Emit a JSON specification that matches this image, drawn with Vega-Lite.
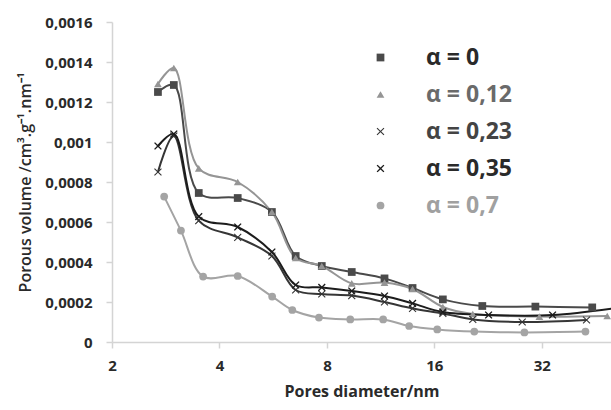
{
  "$schema": "https://vega.github.io/schema/vega-lite/v6.json",
  "width": 499,
  "height": 320,
  "autosize": "none",
  "padding": {"left": 112, "top": 22, "right": 0, "bottom": 68},
  "background": "white",
  "config": {
    "view": {"stroke": null},
    "font": "Open Sans",
    "axis": {"grid": false, "domainColor": "#d4d4d4", "domainWidth": 1.5, "tickColor": "#d4d4d4", "tickWidth": 1.5, "tickSize": 6, "labelFont": "Open Sans", "labelFontWeight": "bold", "labelFontSize": 15, "labelColor": "#2a2a2a", "titleFont": "Open Sans", "titleColor": "#2a2a2a"},
    "legend": {"padding": 0, "rowPadding": 13, "labelOffset": 34, "labelFontSize": 23, "labelFont": "Open Sans", "labelFontWeight": "bold", "labelColor": "#333333", "symbolStrokeWidth": 0}
  },
  "data": {
    "values": [
      {"s": "α = 0", "d": 2.69, "v": 0.00125},
      {"s": "α = 0", "d": 2.98, "v": 0.001285},
      {"s": "α = 0", "d": 3.5, "v": 0.000745},
      {"s": "α = 0", "d": 4.5, "v": 0.00072},
      {"s": "α = 0", "d": 5.61, "v": 0.00065},
      {"s": "α = 0", "d": 6.54, "v": 0.00043},
      {"s": "α = 0", "d": 7.74, "v": 0.00038},
      {"s": "α = 0", "d": 9.39, "v": 0.00035},
      {"s": "α = 0", "d": 11.6, "v": 0.000318},
      {"s": "α = 0", "d": 13.9, "v": 0.00027},
      {"s": "α = 0", "d": 16.9, "v": 0.000213},
      {"s": "α = 0", "d": 21.8, "v": 0.00018},
      {"s": "α = 0", "d": 30.7, "v": 0.000177},
      {"s": "α = 0", "d": 44.3, "v": 0.000173},
      {"s": "α = 0,12", "d": 2.69, "v": 0.00129},
      {"s": "α = 0,12", "d": 2.98, "v": 0.00137},
      {"s": "α = 0,12", "d": 3.5, "v": 0.000868},
      {"s": "α = 0,12", "d": 4.5, "v": 0.0008},
      {"s": "α = 0,12", "d": 5.61, "v": 0.00065},
      {"s": "α = 0,12", "d": 6.54, "v": 0.00042},
      {"s": "α = 0,12", "d": 7.74, "v": 0.00038},
      {"s": "α = 0,12", "d": 9.39, "v": 0.000293},
      {"s": "α = 0,12", "d": 11.6, "v": 0.000297},
      {"s": "α = 0,12", "d": 13.9, "v": 0.000265},
      {"s": "α = 0,12", "d": 16.9, "v": 0.000175},
      {"s": "α = 0,12", "d": 20.5, "v": 0.00014},
      {"s": "α = 0,12", "d": 31.5, "v": 0.000127},
      {"s": "α = 0,12", "d": 48.8, "v": 0.00013},
      {"s": "α = 0,23", "d": 2.69, "v": 0.00085},
      {"s": "α = 0,23", "d": 2.98, "v": 0.00103},
      {"s": "α = 0,23", "d": 3.5, "v": 0.000607},
      {"s": "α = 0,23", "d": 4.5, "v": 0.000523},
      {"s": "α = 0,23", "d": 5.61, "v": 0.00043},
      {"s": "α = 0,23", "d": 6.54, "v": 0.00026},
      {"s": "α = 0,23", "d": 7.74, "v": 0.00024},
      {"s": "α = 0,23", "d": 9.39, "v": 0.000232},
      {"s": "α = 0,23", "d": 11.6, "v": 0.0002},
      {"s": "α = 0,23", "d": 13.9, "v": 0.000168},
      {"s": "α = 0,23", "d": 16.9, "v": 0.000143},
      {"s": "α = 0,23", "d": 20.5, "v": 0.000113},
      {"s": "α = 0,23", "d": 28.2, "v": 0.0001},
      {"s": "α = 0,23", "d": 42.7, "v": 0.00011},
      {"s": "α = 0,35", "d": 2.69, "v": 0.00098},
      {"s": "α = 0,35", "d": 2.98, "v": 0.00104},
      {"s": "α = 0,35", "d": 3.5, "v": 0.000627},
      {"s": "α = 0,35", "d": 4.5, "v": 0.000575},
      {"s": "α = 0,35", "d": 5.61, "v": 0.00045},
      {"s": "α = 0,35", "d": 6.54, "v": 0.000285},
      {"s": "α = 0,35", "d": 7.74, "v": 0.000273},
      {"s": "α = 0,35", "d": 9.39, "v": 0.000255},
      {"s": "α = 0,35", "d": 11.6, "v": 0.00023},
      {"s": "α = 0,35", "d": 13.9, "v": 0.000193},
      {"s": "α = 0,35", "d": 16.9, "v": 0.00015},
      {"s": "α = 0,35", "d": 22.7, "v": 0.000135},
      {"s": "α = 0,35", "d": 34.3, "v": 0.000135},
      {"s": "α = 0,35", "d": 54, "v": 0.000175},
      {"s": "α = 0,7", "d": 2.8, "v": 0.000727},
      {"s": "α = 0,7", "d": 3.12, "v": 0.000557},
      {"s": "α = 0,7", "d": 3.6, "v": 0.000327},
      {"s": "α = 0,7", "d": 4.5, "v": 0.00033},
      {"s": "α = 0,7", "d": 5.62, "v": 0.000227},
      {"s": "α = 0,7", "d": 6.4, "v": 0.00016},
      {"s": "α = 0,7", "d": 7.6, "v": 0.000122},
      {"s": "α = 0,7", "d": 9.3, "v": 0.000113},
      {"s": "α = 0,7", "d": 11.5, "v": 0.000113},
      {"s": "α = 0,7", "d": 13.6, "v": 0.00008},
      {"s": "α = 0,7", "d": 16.3, "v": 0.000063},
      {"s": "α = 0,7", "d": 20.7, "v": 0.000052},
      {"s": "α = 0,7", "d": 28.6, "v": 0.000048},
      {"s": "α = 0,7", "d": 42.4, "v": 0.000052}
    ]
  },
  "encoding": {
    "x": {"field": "d", "type": "quantitative", "scale": {"type": "log", "base": 2, "domain": [2, 50], "nice": false},
      "axis": {"values": [2, 4, 8, 16, 32], "title": "Pores diameter/nm", "titleFontSize": 16, "titleFontWeight": "bold", "titlePadding": 10, "labelPadding": 10, "labelFlush": false}},
    "y": {"field": "v", "type": "quantitative", "scale": {"domain": [0, 0.0016], "nice": false},
      "axis": {"values": [0, 0.0002, 0.0004, 0.0006, 0.0008, 0.001, 0.0012, 0.0014, 0.0016], "labelExpr": "replace(format(datum.value, '.4~f'), '.', ',')", "title": "Porous volume /cm³.g⁻¹.nm⁻¹", "titleFontSize": 16, "titleFontWeight": 600, "titlePadding": 11, "labelPadding": 14}},
    "color": {"field": "s", "type": "nominal", "scale": {"domain": ["α = 0", "α = 0,12", "α = 0,23", "α = 0,35", "α = 0,7"], "range": ["#4a4a4a", "#959595", "#363636", "#1c1c1c", "#a4a4a4"]},
      "legend": {"orient": "none", "legendX": 257, "legendY": 24, "title": null,
        "encode": {"labels": {"update": {"fill": {"signal": "datum.label == 'α = 0,7' ? '#a0a0a0' : datum.label == 'α = 0,12' ? '#6a6a6a' : datum.label == 'α = 0,23' ? '#444444' : '#2a2a2a'"}}}}}}
  },
  "layer": [
    {
      "mark": {"type": "line", "interpolate": "catmull-rom", "strokeWidth": 2, "clip": true}
    },
    {
      "mark": {"type": "point", "filled": true, "opacity": 1, "clip": true},
      "encoding": {
        "shape": {"field": "s", "type": "nominal", "scale": {"domain": ["α = 0", "α = 0,12", "α = 0,23", "α = 0,35", "α = 0,7"], "range": ["square", "triangle-up", "M-1,-0.8L-0.8,-1L0,-0.2L0.8,-1L1,-0.8L0.2,0L1,0.8L0.8,1L0,0.2L-0.8,1L-1,0.8L-0.2,0Z", "M-1,-0.75L-0.75,-1L0,-0.25L0.75,-1L1,-0.75L0.25,0L1,0.75L0.75,1L0,0.25L-0.75,1L-1,0.75L-0.25,0Z", "circle"]},
          "legend": {"orient": "none", "legendX": 257, "legendY": 24, "title": null}},
        "size": {"field": "s", "type": "nominal", "scale": {"domain": ["α = 0", "α = 0,12", "α = 0,23", "α = 0,35", "α = 0,7"], "range": [60, 60, 100, 50, 70]},
          "legend": {"orient": "none", "legendX": 257, "legendY": 24, "title": null}}
      }
    }
  ]
}
